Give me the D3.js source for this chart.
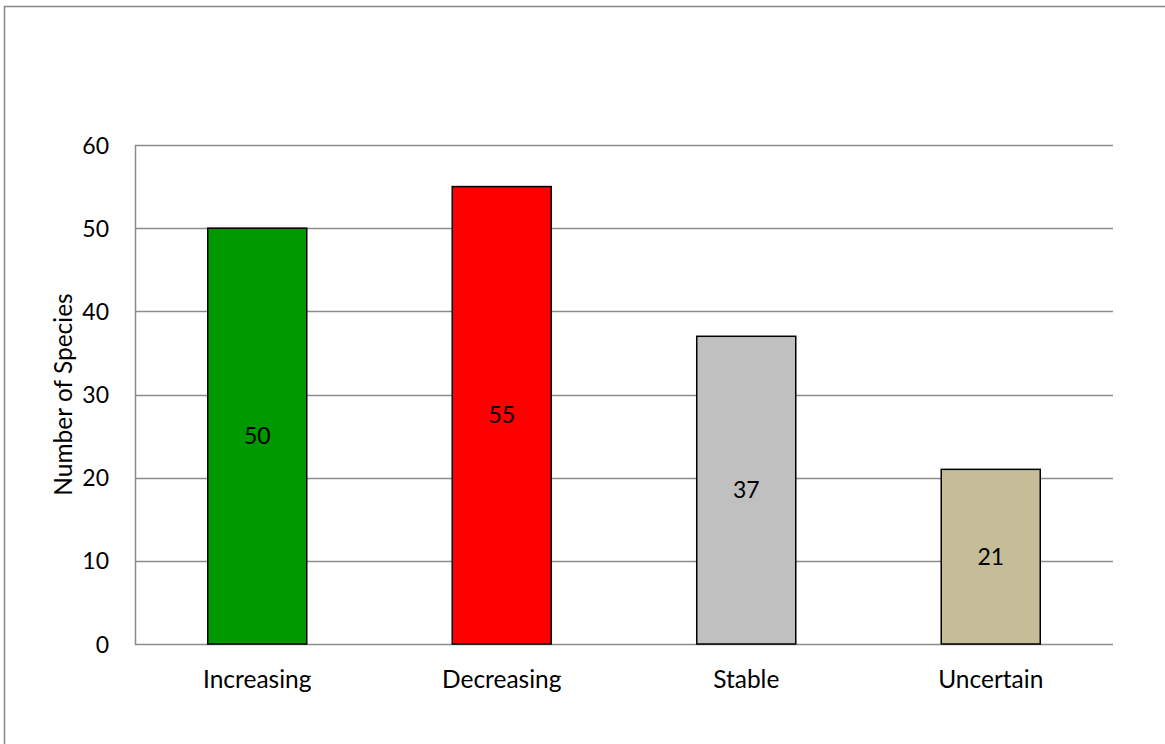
<!DOCTYPE html>
<html>
<head>
<meta charset="utf-8">
<script src="https://cdn.jsdelivr.net/npm/d3@7"></script>
<style>
  html, body { margin: 0; padding: 0; background: #fff; }
  svg { display: block; }
  text { font-family: Lato, "Open Sans", sans-serif; fill: #000; }
</style>
</head>
<body>
<svg id="chart" width="1165" height="744"></svg>
<script>
const categories = ["Increasing", "Decreasing", "Stable", "Uncertain"];
const values = [50, 55, 37, 21];
const colors = ["#009900", "#FF0000", "#C0C0C0", "#C4BD97"];
const yTicks = [0, 10, 20, 30, 40, 50, 60];
const yTitle = "Number of Species";

const svg = d3.select("#chart");
const W = 1165, H = 744;

// outer chart border (extends past right/bottom edge)
svg.append("rect")
  .attr("x", 4.5).attr("y", 6.5)
  .attr("width", W + 10).attr("height", H + 10)
  .attr("fill", "none").attr("stroke", "#888").attr("stroke-width", 1.5);

const pL = 135, pR = 1113, pT = 145, pB = 644;

const x = d3.scaleBand().domain(categories).range([pL, pR]).paddingInner(0).paddingOuter(0);
const y = d3.scaleLinear().domain([0, 60]).range([pB, pT]);
const barW = x.bandwidth() * 0.405;

// gridlines
svg.append("g").selectAll("line").data(yTicks).join("line")
  .attr("x1", pL).attr("x2", pR)
  .attr("y1", d => Math.round(y(d)) + 0.5).attr("y2", d => Math.round(y(d)) + 0.5)
  .attr("stroke", "#8c8c8c").attr("stroke-width", 1.5);

// y axis line
svg.append("line")
  .attr("x1", pL + 0.5).attr("x2", pL + 0.5)
  .attr("y1", pT).attr("y2", pB + 1)
  .attr("stroke", "#8c8c8c").attr("stroke-width", 1.5);

// y tick labels via axis
const yAxis = d3.axisLeft(y).tickValues(yTicks).tickSize(0).tickPadding(0).tickFormat(d3.format("d"));
const gy = svg.append("g").attr("transform", `translate(109,0)`).call(yAxis);
gy.select(".domain").remove();
gy.selectAll("text")
  .style("font-family", "Lato, sans-serif").style("font-size", "23px").attr("fill", "#000")
  .attr("dy", "0.35em").attr("x", 0);

// bars
svg.append("g").selectAll("rect").data(values).join("rect")
  .attr("x", (d, i) => x(categories[i]) + x.bandwidth() / 2 - barW / 2)
  .attr("y", d => y(d))
  .attr("width", barW)
  .attr("height", d => y(0) - y(d))
  .attr("fill", (d, i) => colors[i])
  .attr("stroke", "#000").attr("stroke-width", 1.5);

// value labels
svg.append("g").selectAll("text").data(values).join("text")
  .attr("x", (d, i) => x(categories[i]) + x.bandwidth() / 2)
  .attr("y", d => (y(d) + y(0)) / 2)
  .attr("dy", "0.35em")
  .attr("text-anchor", "middle")
  .style("font-size", "23px")
  .text(d => d);

// x labels via axis
const xAxis = d3.axisBottom(x).tickSize(0).tickPadding(0);
const gx = svg.append("g").attr("transform", `translate(0,${pB})`).call(xAxis);
gx.select(".domain").remove();
gx.selectAll("text")
  .style("font-family", "Lato, sans-serif").style("font-size", "24.5px").attr("fill", "#000")
  .attr("dy", null).attr("y", 44);

// y title
svg.append("text")
  .attr("transform", `translate(72,${(pT + pB) / 2}) rotate(-90)`)
  .attr("text-anchor", "middle")
  .style("font-size", "24.5px")
  .text(yTitle);
</script>
</body>
</html>
